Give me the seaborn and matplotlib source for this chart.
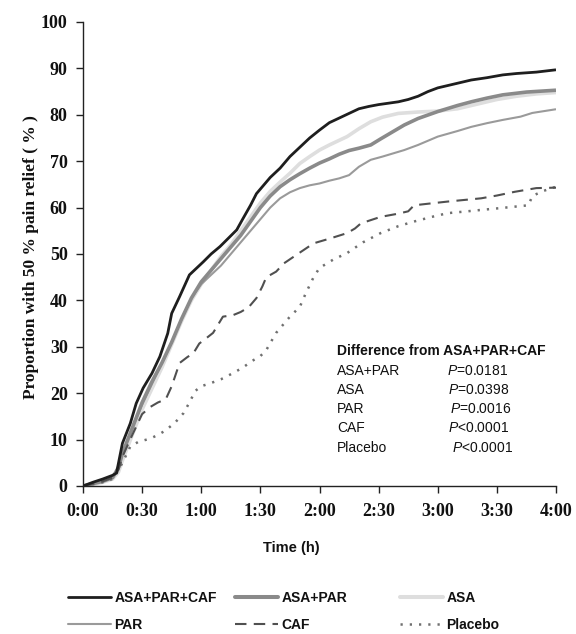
import matplotlib
matplotlib.use("Agg")
import matplotlib.pyplot as plt
import seaborn as sns
import pandas as pd
from matplotlib.lines import Line2D

# ---------------- data (minutes, % with 50% pain relief) ----------------
t_apc = [0, 5, 10, 15, 17, 20, 24, 27, 30.5, 35, 39, 43, 45, 49, 54, 61, 65, 69.5, 74, 78, 81, 85, 88, 92, 95,
         100, 105, 110, 115, 120, 125, 130, 135, 140, 145, 150, 155, 160, 165, 170, 175, 180, 185, 190, 197,
         205, 213, 220, 230, 240]
y_apc = [0, 0.8, 1.5, 2.3, 2.8, 9.2, 13.5, 17.8, 21.1, 24.3, 27.9, 32.9, 37.2, 40.8, 45.5, 48.3, 50, 51.6,
         53.5, 55.2, 57.5, 60.5, 63, 65, 66.5, 68.5, 71, 73, 75, 76.7, 78.3, 79.3, 80.3, 81.3, 81.8, 82.2, 82.5,
         82.8, 83.3, 84, 85, 85.8, 86.3, 86.8, 87.5, 88, 88.6, 88.9, 89.2, 89.7]

t_ap = [0, 5, 10, 15, 18, 20, 25, 30, 35, 40, 45, 50, 55, 60, 65, 70, 75, 80, 85, 90, 95, 100, 105, 110, 115,
        120, 125, 130, 135, 140, 146, 151, 157, 163, 170, 180, 190, 197, 205, 213, 225, 240]
y_ap = [0, 0.5, 1, 1.8, 4, 7, 12.5, 18, 22.5, 26.5, 31, 36, 40.5, 44, 46.5, 49, 51.5, 54, 57, 60, 62.5, 64.5,
        66, 67.3, 68.5, 69.6, 70.5, 71.5, 72.3, 72.8, 73.5, 74.8, 76.3, 77.8, 79.2, 80.7, 82, 82.8, 83.6, 84.3,
        84.9, 85.3]

t_asa = [0, 5, 10, 15, 18, 20, 25, 30, 35, 40, 45, 50, 55, 60, 65, 70, 75, 80, 85, 90, 95, 100, 105, 110, 115,
         120, 125, 130, 134, 140, 146, 152, 160, 170, 180, 190, 200, 210, 220, 230, 240]
y_asa = [0, 0.3, 0.8, 1.5, 3, 5.5, 11, 16.5, 21, 25.5, 30.5, 35.5, 40, 43.5, 46.5, 49.5, 52, 55, 58, 61, 63.5,
         65.5, 67.4, 69.5, 71, 72.4, 73.5, 74.5, 75.3, 77, 78.5, 79.5, 80.3, 80.6, 80.8, 81.3, 82.3, 83.3, 84,
         84.5, 84.8]

t_par = [0, 5, 10, 15, 18, 20, 25, 30, 35, 40, 45, 50, 55, 60, 65, 70, 75, 80, 85, 90, 95, 100, 105, 110, 115,
         120, 125, 130, 135, 140, 146, 152, 163, 170, 180, 190, 197, 205, 213, 222, 228, 240]
y_par = [0, 0.5, 1, 1.8, 4, 7, 12.5, 17.5, 22, 26.5, 31, 36, 40.5, 43.5, 45.5, 47.5, 50, 52.5, 55, 57.5, 60, 62,
         63.3, 64.2, 64.8, 65.2, 65.8, 66.3, 67, 68.8, 70.3, 71, 72.4, 73.5, 75.3, 76.5, 77.4, 78.2, 78.9, 79.6,
         80.4, 81.2]

t_caf = [0, 5, 10, 15, 18, 20, 25, 30, 34, 38, 42, 45, 49, 53, 56, 59, 63, 66, 71, 76, 80, 84, 88, 91, 93, 98,
         102, 110, 117, 125, 134, 138, 141, 151, 160, 165, 168, 185, 202, 210, 219, 230, 240]
y_caf = [0, 0.5, 1, 1.8, 3.5, 6.3, 11, 15.5, 17, 18, 18.7, 21.5, 26.5, 27.8, 28.6, 30.7, 32, 33, 36.5, 36.8,
         37.5, 38.5, 40.5, 43, 45, 46.2, 48, 50.3, 52.3, 53.3, 54.5, 55.5, 56.6, 58, 58.7, 59.2, 60.5, 61.3, 62,
         62.6, 63.4, 64.2, 64.3]

t_pla = [0, 5, 10, 15, 17, 20, 24, 28, 34, 38, 42, 47, 51, 54, 57, 60, 65, 70, 76, 81, 86, 90, 93, 98, 102, 105,
         110, 113, 117, 120, 127, 134, 142, 151, 160, 168, 177, 185, 195, 202, 212, 219, 226, 228, 233, 240]
y_pla = [0, 0.4, 0.8, 1.5, 2.7, 5, 8.5, 9.5, 10.2, 11, 12, 13.8, 15.7, 18, 20.5, 21.5, 22.2, 23, 24.3, 25.5, 27,
         28, 29.3, 33, 35, 36.5, 38.6, 41.5, 45, 47, 48.8, 50.2, 52.5, 54.5, 56, 57, 58, 58.8, 59.2, 59.5, 59.9,
         60.2, 60.5, 62.5, 63.5, 64.5]

x_ticks = [0, 30, 60, 90, 120, 150, 180, 210, 240]
x_tick_labels = ["0:00", "0:30", "1:00", "1:30", "2:00", "2:30", "3:00", "3:30", "4:00"]
y_ticks = [0, 10, 20, 30, 40, 50, 60, 70, 80, 90, 100]

compare_names = ["ASA+PAR", "ASA", "PAR", "CAF", "Placebo"]
compare_p = ["=0.0181", "=0.0398", "=0.0016", "<0.0001", "<0.0001"]

series = [
    ("ASA+PAR+CAF", t_apc, y_apc),
    ("ASA+PAR", t_ap, y_ap),
    ("ASA", t_asa, y_asa),
    ("PAR", t_par, y_par),
    ("CAF", t_caf, y_caf),
    ("Placebo", t_pla, y_pla),
]

styles = {
    "ASA+PAR+CAF": dict(color="#1e1e1e", lw=2.0, ls="-"),
    "ASA+PAR": dict(color="#8a8a8a", lw=2.6, ls="-"),
    "ASA": dict(color="#dedede", lw=2.6, ls="-"),
    "PAR": dict(color="#9a9a9a", lw=1.5, ls="-"),
    "CAF": dict(color="#505050", lw=1.5, ls=(0, (5.5, 3.5))),
    "Placebo": dict(color="#707070", lw=1.8, ls=(0, (0.9, 2.8))),
}

# ---------------- figure ----------------
sns.set_theme(style="white")
plt.rcParams["font.family"] = ["Liberation Sans", "DejaVu Sans"]
plt.rcParams["mathtext.fontset"] = "custom"
plt.rcParams["mathtext.it"] = "Liberation Sans:italic"
plt.rcParams["mathtext.rm"] = "Liberation Sans"

fig = plt.figure(figsize=(5.76, 6.34), dpi=100)
ax = fig.add_axes([83 / 576, 1 - 486 / 634, (556 - 83) / 576, (486 - 22) / 634])

# draw order: lighter lines first, black on top
draw_order = ["ASA", "PAR", "ASA+PAR", "Placebo", "CAF", "ASA+PAR+CAF"]
data = {name: (t, y) for name, t, y in series}
for name in draw_order:
    t, y = data[name]
    df = pd.DataFrame({"t": t, "y": y})
    st = styles[name]
    sns.lineplot(data=df, x="t", y="y", ax=ax, color=st["color"], linewidth=st["lw"],
                 linestyle=st["ls"], legend=False, solid_capstyle="butt", dash_capstyle="butt")

ax.set_xlim(0, 240)
ax.set_ylim(0, 100)
ax.set_xticks(x_ticks)
ax.set_xticklabels(x_tick_labels)
ax.set_yticks(y_ticks)
ax.set_xlabel("")
ax.set_ylabel("")
for sp in ["top", "right"]:
    ax.spines[sp].set_visible(False)
for sp in ["left", "bottom"]:
    ax.spines[sp].set_color("#222222")
    ax.spines[sp].set_linewidth(1.0)
ax.tick_params(axis="both", direction="out", length=5, width=1.0, color="#222222",
               bottom=True, left=True)
ax.tick_params(axis="x", pad=7)
ax.tick_params(axis="y", pad=6)
for lab in ax.get_xticklabels() + ax.get_yticklabels():
    lab.set_fontfamily("Liberation Serif")
    lab.set_fontweight("bold")
    lab.set_fontsize(13)
    lab.set_color("#111111")

fig.text(31 / 576, 1 - 257 / 634, "Proportion with 50 % pain relief ( % )", rotation=90,
         ha="center", va="center", fontfamily="Liberation Serif", fontweight="bold",
         fontsize=12.5, color="#111111")
fig.text(291 / 576, 1 - 548 / 634, "Time (h)", ha="center", va="center",
         fontweight="bold", fontsize=10.5, color="#111111")

# p-value table
fig.text(337 / 576, 1 - 351 / 634, "Difference from ASA+PAR+CAF", ha="left", va="center",
         fontweight="bold", fontsize=10, color="#111111")
row_y = [371, 390, 409, 428, 448]
p_x = [447, 448, 450, 448, 452]
for nm, pv, yy, px in zip(compare_names, compare_p, row_y, p_x):
    fig.text(337 / 576, 1 - yy / 634, nm, ha="left", va="center", fontsize=10, color="#111111")
    fig.text(px / 576, 1 - yy / 634, "$P$" + pv, ha="left", va="center", fontsize=10,
             color="#111111")

# legend: three columns laid out row-wise
cols = [["ASA+PAR+CAF", "PAR"], ["ASA+PAR", "CAF"], ["ASA", "Placebo"]]
col_x = [68, 235, 400]
for names, cx in zip(cols, col_x):
    handles = [Line2D([], [], color=styles[n]["color"], lw=styles[n]["lw"] + (0.3 if n in ("ASA+PAR", "ASA") else 0),
                      ls=styles[n]["ls"]) for n in names]
    leg = fig.legend(handles, names, loc="upper left", bbox_to_anchor=(cx / 576, 1 - 591 / 634),
                     frameon=False, borderpad=0, borderaxespad=0, handlelength=3.1,
                     handletextpad=0.25, labelspacing=0.95,
                     prop=dict(family="Liberation Sans", weight="bold", size=10))
    for txt in leg.get_texts():
        txt.set_color("#111111")

fig.savefig("out.png", dpi=100)
